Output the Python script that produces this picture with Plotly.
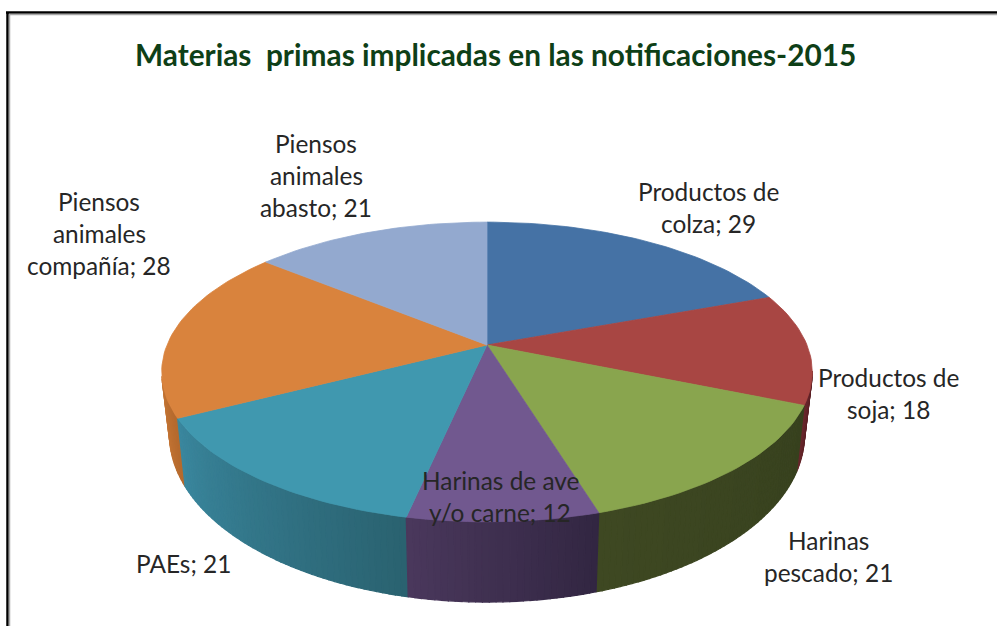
import math
import plotly.graph_objects as go

categories = ["Productos de colza", "Productos de soja", "Harinas pescado",
              "Harinas de ave y/o carne", "PAEs", "Piensos animales compañía",
              "Piensos animales abasto"]
values = [29, 18, 21, 12, 21, 28, 21]
label_lines = [["Productos de", "colza"], ["Productos de", "soja"], ["Harinas", "pescado"],
               ["Harinas de ave", "y/o carne"], ["PAEs"], ["Piensos", "animales", "compañía"],
               ["Piensos", "animales", "abasto"]]
label_centers = [(708, 207), (888, 393), (828, 556), (500, 496), (183, 563), (99, 233), (316, 175)]
top_colors = ["#4572A5", "#A84643", "#89A54E", "#71588F", "#4098AF", "#D9833D", "#93A9CF"]
side_left = [(50, 85, 125), (105, 40, 45), (62, 72, 34), (74, 56, 92), (58, 135, 158), (200, 120, 55), (110, 125, 155)]
side_right = [(50, 85, 125), (80, 25, 30), (55, 65, 30), (50, 38, 66), (42, 98, 112), (180, 105, 45), (110, 125, 155)]

CX, CY, A, B, K = 487, 345, 145, 320, 0.18
CYB, AB, SX = 404.5, 162, 0.976


def top(theta):
    u, v = math.sin(theta), math.cos(theta)
    d = 1 + K * v
    return CX + B * u / d, CY - A * v / d


def bottom(theta):
    u, v = math.sin(theta), math.cos(theta)
    d = 1 + K * v
    return CX + SX * B * u / d, CYB - AB * v / d


fig = go.Figure()
total = sum(values)
edges = [0]
for val in values:
    edges.append(edges[-1] + val / total * 2 * math.pi)


def add_poly(pts, color, width=0.8):
    xs = [p[0] for p in pts] + [pts[0][0]]
    ys = [p[1] for p in pts] + [pts[0][1]]
    fig.add_trace(go.Scatter(x=xs, y=ys, mode="lines", fill="toself", fillcolor=color,
                             line=dict(color=color, width=width), hoverinfo="skip", showlegend=False))


# Rim of the disc, from the two outer ends towards the front.
VIS_A, VIS_B = math.radians(100), math.radians(258)
rim = []
for i in range(len(values)):
    a0 = max(edges[i], VIS_A)
    a1 = min(edges[i + 1], VIS_B)
    if a1 <= a0:
        continue
    n = max(2, int(math.degrees(a1 - a0) / 1.0))
    for j in range(n):
        t0 = a0 + (a1 - a0) * j / n
        t1 = a0 + (a1 - a0) * (j + 1) / n
        # theta grows clockwise, so across the front it runs from right to left
        f = (j + 0.5) / n
        c = tuple(round(side_right[i][k] * (1 - f) + side_left[i][k] * f) for k in range(3))
        rim.append((abs((t0 + t1) / 2 - math.pi), t0, t1, "rgb(%d,%d,%d)" % c))
for _, t0, t1, color in sorted(rim, key=lambda r: -r[0]):
    add_poly([top(t0), top(t1), bottom(t1), bottom(t0)], color, 1.2)

# Top faces.
for i in range(len(values)):
    n = max(8, int(math.degrees(edges[i + 1] - edges[i]) / 1.5))
    arc = [top(edges[i] + (edges[i + 1] - edges[i]) * j / n) for j in range(n + 1)]
    add_poly([(CX, CY)] + arc, top_colors[i])

annotations = []
LINE = 32
for lines, val, (lx, ly) in zip(label_lines, values, label_centers):
    n = len(lines)
    for j, line in enumerate(lines):
        text = line + ("; %d" % val if j == n - 1 else "")
        annotations.append(dict(x=lx, y=ly + (j - (n - 1) / 2) * LINE, text=text, showarrow=False,
                                xref="x", yref="y", xanchor="center", yanchor="middle",
                                font=dict(family="Lato", size=24.4, color="#262626")))
annotations.append(dict(x=495, y=54, text="Materias\u00a0 primas implicadas en las notificaciones-2015",
                        showarrow=False, xref="x", yref="y", xanchor="center", yanchor="middle",
                        font=dict(family="Lato", size=29.8, color="#0E3F17", weight="bold")))

shapes = [
    dict(type="line", xref="x", yref="y", x0=7.5, y0=12, x1=7.5, y1=626, line=dict(color="#000000", width=2.5)),
    dict(type="line", xref="x", yref="y", x0=6, y0=12.5, x1=997, y1=12.5, line=dict(color="#000000", width=2.5)),
    dict(type="line", xref="x", yref="y", x0=9.5, y0=14.5, x1=9.5, y1=626, line=dict(color="#A8A8A8", width=1.5)),
    dict(type="line", xref="x", yref="y", x0=9, y0=14.5, x1=997, y1=14.5, line=dict(color="#A8A8A8", width=1.5)),
]

fig.update_layout(
    width=997, height=626, margin=dict(l=0, r=0, t=0, b=0), autosize=False,
    paper_bgcolor="white", plot_bgcolor="white", showlegend=False,
    xaxis=dict(range=[0, 997], visible=False, fixedrange=True),
    yaxis=dict(range=[626, 0], visible=False, fixedrange=True),
    annotations=annotations, shapes=shapes,
)
fig.write_html("out.html", config={"displayModeBar": False},
               post_script="document.body.style.margin='0';document.body.style.overflow='hidden';")
